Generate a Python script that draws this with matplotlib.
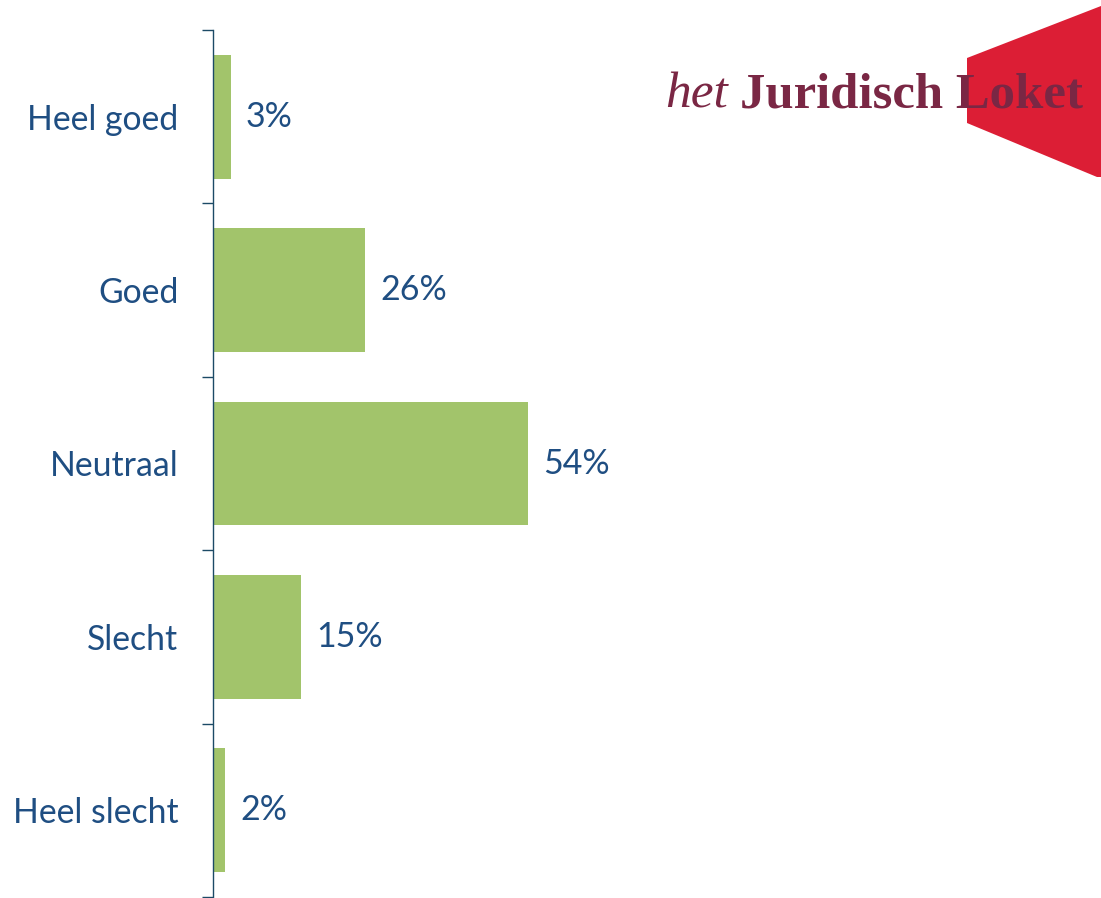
import matplotlib
matplotlib.use("Agg")
import matplotlib.pyplot as plt
from matplotlib.patches import Polygon

categories = ["Heel goed", "Goed", "Neutraal", "Slecht", "Heel slecht"]
values = [3, 26, 54, 15, 2]
value_labels = ["3%", "26%", "54%", "15%", "2%"]

W, H = 1101, 898
fig = plt.figure(figsize=(W / 100, H / 100), dpi=100)
plt.rcParams['font.family'] = ['Lato', 'DejaVu Sans']

left_px, right_px, top_px, bottom_px = 213, 1090, 30, 897
ax = fig.add_axes([left_px / W, 1 - bottom_px / H, (right_px - left_px) / W, (bottom_px - top_px) / H])

px_per_unit = (528 - 213) / 54.0
xmax = (right_px - left_px) / px_per_unit

text_color = "#1f4e82"
bar_color = "#a2c46b"
axis_color = "#1c4a66"

n = len(categories)
ypos = list(range(n))
ax.barh(ypos, values, height=0.715, color=bar_color, zorder=2)
ax.set_xlim(0, xmax)
ax.set_ylim(n - 0.5, -0.5)

for y, v, lab in zip(ypos, values, value_labels):
    ax.annotate(lab, (v, y), xytext=(11, 0), textcoords="offset points",
                ha="left", va="center", fontsize=24.5, color=text_color)

ax.set_yticks([i - 0.5 for i in range(n + 1)])
ax.set_yticklabels([])
ax.set_yticks(ypos, minor=True)
ax.set_yticklabels(categories, minor=True, fontsize=24.3, color=text_color)
ax.tick_params(axis="y", which="major", length=8, width=1, color=axis_color, direction="out")
ax.tick_params(axis="y", which="minor", length=0, pad=25)
ax.set_xticks([])
for s in ["top", "right", "bottom"]:
    ax.spines[s].set_visible(False)
ax.spines["left"].set_color(axis_color)
ax.spines["left"].set_linewidth(1)

# Logo
poly = Polygon([(967 / W, 1 - 58 / H), (1101 / W, 1 - 6 / H), (1101 / W, 1 - 177 / H),
                (1097 / W, 1 - 177 / H), (967 / W, 1 - 123 / H)],
               closed=True, transform=fig.transFigure, facecolor="#dc1e35",
               edgecolor="none", joinstyle="round", zorder=1)
fig.patches.append(poly)
logo_color = "#7a2744"
fig.text(665 / W, 1 - 108 / H, "het", fontsize=37, style="italic",
         family="Liberation Serif", color=logo_color, va="baseline", ha="left", zorder=3)
fig.text(1083 / W, 1 - 108 / H, "Juridisch Loket", fontsize=36.5, weight="bold",
         family="Liberation Serif", color=logo_color, va="baseline", ha="right", zorder=3)

fig.savefig("out.png", dpi=100)
